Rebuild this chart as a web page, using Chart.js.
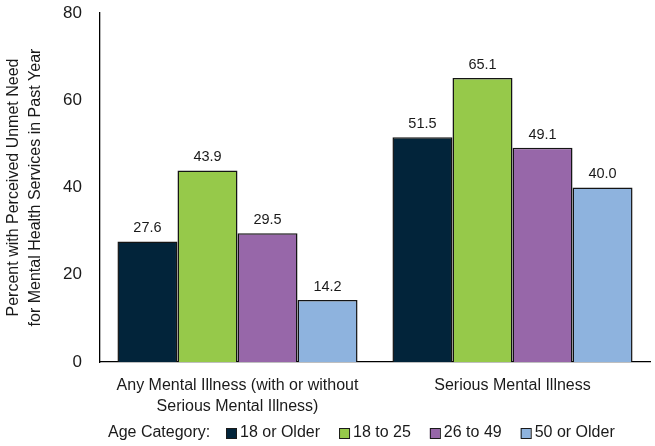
<!DOCTYPE html>
<html>
<head>
<meta charset="utf-8">
<script src="https://cdn.jsdelivr.net/npm/chart.js@4.4.1/dist/chart.umd.min.js"></script>
<style>
  html, body { margin: 0; padding: 0; background: #fff; }
  #wrap { width: 655px; height: 446px; position: relative; }
</style>
</head>
<body>
<div id="wrap"><canvas id="chart"></canvas></div>
<script>
// Données
const categories = [
    ['Any Mental Illness (with or without', 'Serious Mental Illness)'],
    'Serious Mental Illness'
];
const seriesNames = ['18 or Older', '18 to 25', '26 to 49', '50 or Older'];
const older18 = [27.6, 51.5];
const age18to25 = [43.9, 65.1];
const age26to49 = [29.5, 49.1];
const older50 = [14.2, 40.0];
const yTicks = [0, 20, 40, 60, 80];

const colors = ['#02243a', '#96c94a', '#9767a9', '#8eb3de'];
const FONT = "'Liberation Sans', Arial, sans-serif";

const seriesValues = [older18, age18to25, age26to49, older50];

// Étiquettes de valeur au-dessus des barres
const valueLabels = {
    id: 'valueLabels',
    afterDatasetsDraw(chart) {
        const ctx = chart.ctx;
        ctx.save();
        ctx.font = `14.5px ${FONT}`;
        ctx.fillStyle = '#1a1a1a';
        ctx.textAlign = 'center';
        ctx.textBaseline = 'bottom';
        chart.data.datasets.forEach((ds, i) => {
            chart.getDatasetMeta(i).data.forEach((bar, j) => {
                ctx.fillText(ds.data[j].toFixed(1), bar.x, bar.y - 6);
            });
        });
        ctx.restore();
    }
};

// Légende maison avec le préfixe "Age Category:"
const customLegend = {
    id: 'customLegend',
    afterDraw(chart) {
        const ctx = chart.ctx;
        ctx.save();
        ctx.font = `16px ${FONT}`;
        ctx.fillStyle = '#1a1a1a';
        ctx.textBaseline = 'middle';
        const y = 433;
        let x = 108;
        ctx.fillText('Age Category:', x, y);
        x = 226;
        chart.data.datasets.forEach((ds) => {
            ctx.fillStyle = ds.backgroundColor;
            ctx.fillRect(x, y - 5, 10, 10);
            ctx.strokeStyle = '#1a1a1a';
            ctx.lineWidth = 1;
            ctx.strokeRect(x + 0.5, y - 4.5, 10, 10);
            ctx.fillStyle = '#1a1a1a';
            ctx.fillText(ds.label, x + 14, y);
            x += 14 + ctx.measureText(ds.label).width + 19;
        });
        ctx.restore();
    }
};

new Chart(document.getElementById('chart'), {
    type: 'bar',
    data: {
        labels: categories,
        datasets: seriesNames.map((name, i) => ({
            label: name,
            data: seriesValues[i],
            backgroundColor: colors[i],
            borderColor: '#141414',
            borderWidth: 1.5,
            categoryPercentage: 0.873,
            barPercentage: 1.0,
        })),
    },
    options: {
        responsive: true,
        maintainAspectRatio: false,
        animation: false,
        devicePixelRatio: 1,
        layout: { padding: { top: 13, right: 5, left: 0, bottom: 0 }, autoPadding: false },
        plugins: {
            legend: { display: false },
            tooltip: { enabled: false },
        },
        scales: {
            x: {
                grid: { display: false },
                border: { display: true, color: '#000', width: 1.3 },
                ticks: {
                    color: '#1a1a1a',
                    font: { family: FONT, size: 16, lineHeight: 1.3 },
                    padding: 5,
                    maxRotation: 0,
                },
                afterFit: (scale) => { scale.height = 84; },
            },
            y: {
                min: 0,
                max: 80,
                afterBuildTicks: (scale) => { scale.ticks = yTicks.map(v => ({ value: v })); },
                grid: { display: false, drawTicks: false },
                border: { display: true, color: '#000', width: 1.3 },
                ticks: {
                    color: '#1a1a1a',
                    font: { family: FONT, size: 17 },
                    padding: 18,
                },
                title: {
                    display: true,
                    text: ['Percent with Perceived Unmet Need', 'for Mental Health Services in Past Year'],
                    color: '#1a1a1a',
                    font: { family: FONT, size: 16, lineHeight: 1.4 },
                    padding: { top: 2, bottom: 0 },
                },
                afterFit: (scale) => { scale.width = 100; scale.paddingTop = 0; scale.paddingBottom = 0; },
            },
        },
    },
    plugins: [valueLabels, customLegend],
});
</script>
</body>
</html>
